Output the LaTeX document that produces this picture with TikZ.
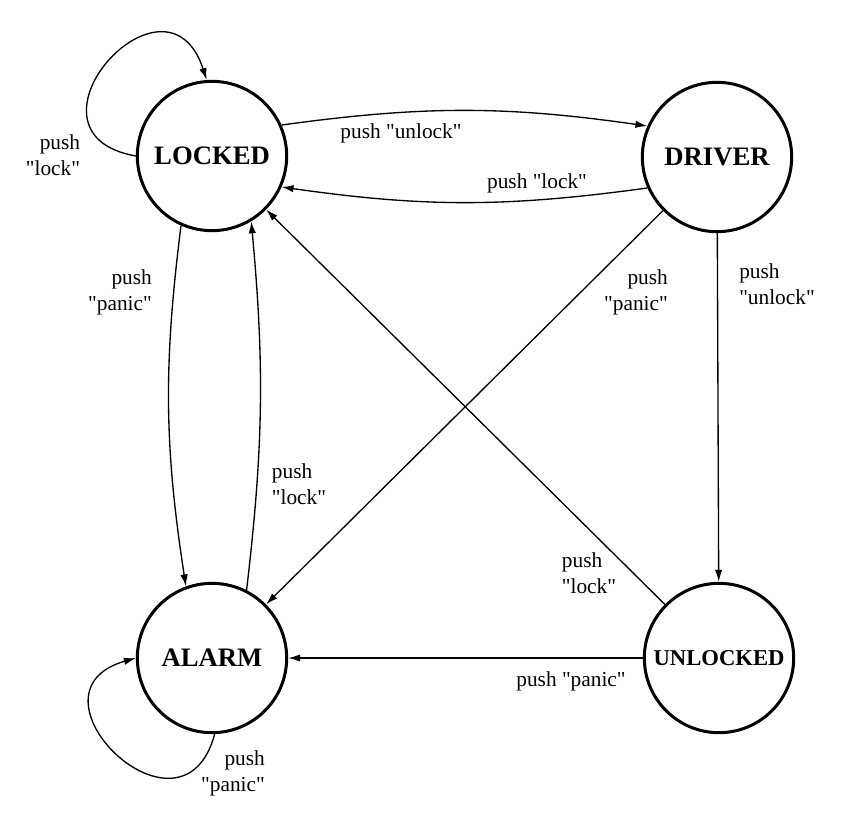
\documentclass[tikz,border=0pt]{standalone}
\usepackage{fontspec}
\setmainfont{Liberation Serif}[Ligatures=TeXOff]
\usetikzlibrary{arrows.meta}

\begin{document}
\begin{tikzpicture}
  [x=0.75pt,y=-0.75pt,>={Latex[length=9pt,width=5.5pt]},
   state/.style={circle,draw,line width=2.25pt,minimum size=112pt,inner sep=0pt,
     font=\bfseries\fontsize{20}{24}\selectfont},
   lbl/.style={inner sep=0pt,font=\fontsize{16}{19.5}\selectfont},
   edge/.style={->,line width=1pt}]
  \useasboundingbox (0,0) rectangle (855,838);

  \node[state] (locked) at (212,156) {LOCKED};
  \node[state] (driver) at (717,157) {DRIVER};
  \node[state] (alarm) at (212,658) {ALARM};
  \node[state,font=\bfseries\fontsize{17}{20}\selectfont] (unlocked) at (719,658) {UNLOCKED};

  \node[lbl,align=right] (t1) at (53,155) {push\\"lock"};
  \node[lbl] (t2) at (401,133) {push "unlock"};
  \node[lbl] (t3) at (537,183) {push "lock"};
  \node[lbl,align=right] (t4) at (120,292) {push\\"panic"};
  \node[lbl,align=left] (t5) at (299,484) {push\\"lock"};
  \node[lbl,align=right] (t6) at (636,292) {push\\"panic"};
  \node[lbl,align=left] (t7) at (777,284) {push\\"unlock"};
  \node[lbl,align=left] (t8) at (589,573) {push\\"lock"};
  \node[lbl] (t9) at (571,681) {push "panic"};
  \node[lbl,align=right] (t10) at (233,773) {push\\"panic"};

  % loops
  \draw [edge] (locked.180) to[out=170,in=108,min distance=98pt] (locked.94);
  \draw [edge] (alarm.-88) to[out=-105,in=196,min distance=94pt] (alarm.180);

  % curved ones
  \draw [edge] (locked.24) to[bend left=8] (driver.156);
  \draw [edge] (driver.204) to[bend left=8] (locked.-24);
  \draw [edge] (locked.-114) to[bend right=8] (alarm.110);
  \draw [edge] (alarm.63) to[bend right=6] (locked.-59);

  \foreach \from/\to in {driver/alarm, unlocked/locked, driver/unlocked, unlocked/alarm}
    \draw [edge] (\from) -- (\to);

\end{tikzpicture}
\end{document}
